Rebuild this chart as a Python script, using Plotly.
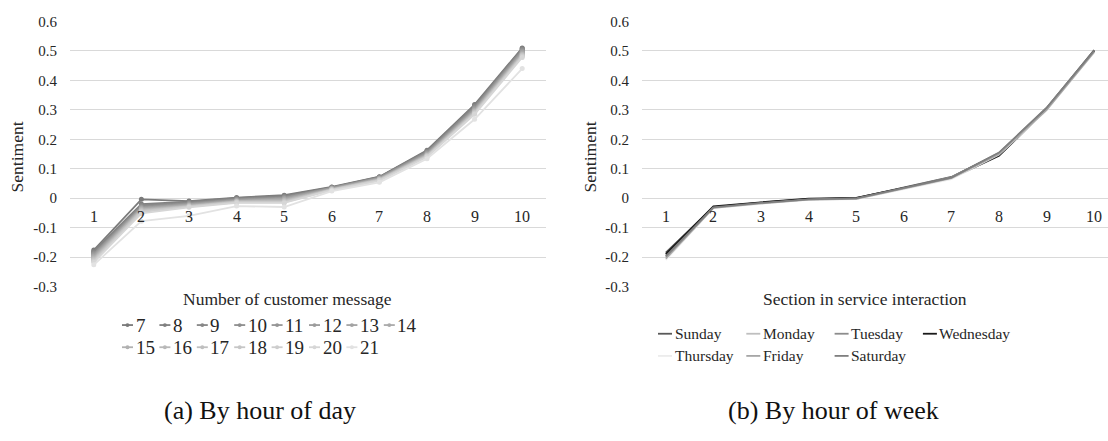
import plotly.graph_objects as go

W, H = 1108, 441

# ---------------- data ----------------
categories = [1, 2, 3, 4, 5, 6, 7, 8, 9, 10]
category_labels = ["1", "2", "3", "4", "5", "6", "7", "8", "9", "10"]

hour_names = ["7", "8", "9", "10", "11", "12", "13", "14",
              "15", "16", "17", "18", "19", "20", "21"]
h7 = [-0.176, -0.004, -0.010, 0.002, 0.010, 0.038, 0.073, 0.163, 0.318, 0.510]
h8 = [-0.180, -0.020, -0.012, 0.000, 0.008, 0.037, 0.072, 0.160, 0.314, 0.508]
h9 = [-0.184, -0.024, -0.015, -0.002, 0.005, 0.036, 0.071, 0.158, 0.312, 0.505]
h10 = [-0.188, -0.028, -0.017, -0.004, 0.003, 0.035, 0.070, 0.156, 0.308, 0.503]
h11 = [-0.190, -0.030, -0.019, -0.005, 0.001, 0.034, 0.069, 0.154, 0.305, 0.500]
h12 = [-0.193, -0.032, -0.020, -0.006, 0.000, 0.034, 0.068, 0.152, 0.303, 0.498]
h13 = [-0.196, -0.034, -0.022, -0.008, -0.002, 0.033, 0.067, 0.150, 0.300, 0.495]
h14 = [-0.199, -0.036, -0.023, -0.009, -0.004, 0.032, 0.066, 0.149, 0.298, 0.492]
h15 = [-0.202, -0.038, -0.025, -0.010, -0.006, 0.031, 0.065, 0.147, 0.296, 0.490]
h16 = [-0.205, -0.040, -0.026, -0.011, -0.008, 0.030, 0.064, 0.146, 0.294, 0.488]
h17 = [-0.208, -0.042, -0.027, -0.012, -0.010, 0.030, 0.063, 0.145, 0.292, 0.486]
h18 = [-0.211, -0.044, -0.028, -0.013, -0.012, 0.029, 0.062, 0.143, 0.290, 0.484]
h19 = [-0.214, -0.047, -0.029, -0.014, -0.014, 0.028, 0.061, 0.142, 0.288, 0.482]
h20 = [-0.218, -0.052, -0.031, -0.016, -0.016, 0.027, 0.059, 0.140, 0.285, 0.478]
h21 = [-0.226, -0.078, -0.060, -0.027, -0.030, 0.024, 0.054, 0.134, 0.268, 0.440]
hour_series = [h7, h8, h9, h10, h11, h12, h13, h14, h15, h16, h17, h18, h19, h20, h21]

day_names = ["Sunday", "Monday", "Tuesday", "Wednesday", "Thursday", "Friday", "Saturday"]
sunday = [-0.185, -0.030, -0.015, -0.003, 0.000, 0.037, 0.072, 0.152, 0.305, 0.503]
monday = [-0.200, -0.032, -0.017, -0.004, -0.002, 0.035, 0.070, 0.150, 0.303, 0.500]
tuesday = [-0.195, -0.031, -0.016, -0.004, -0.001, 0.036, 0.071, 0.153, 0.306, 0.502]
wednesday = [-0.190, -0.028, -0.014, -0.002, 0.001, 0.034, 0.068, 0.144, 0.302, 0.500]
thursday = [-0.210, -0.034, -0.019, -0.006, -0.003, 0.030, 0.065, 0.148, 0.298, 0.495]
friday = [-0.205, -0.033, -0.018, -0.005, -0.002, 0.033, 0.068, 0.150, 0.300, 0.497]
saturday = [-0.198, -0.031, -0.016, -0.004, -0.001, 0.035, 0.070, 0.155, 0.307, 0.501]
day_series = [sunday, monday, tuesday, wednesday, thursday, friday, saturday]

y_tick_vals = [-0.3, -0.2, -0.1, 0, 0.1, 0.2, 0.3, 0.4, 0.5, 0.6]
y_tick_labels = ["-0.3", "-0.2", "-0.1", "0", "0.1", "0.2", "0.3", "0.4", "0.5", "0.6"]

# ---------------- styles ----------------
hour_colors = ["#7a7a7a", "#808080", "#878787", "#8e8e8e", "#959595", "#9c9c9c",
               "#a3a3a3", "#aaaaaa", "#b1b1b1", "#b8b8b8", "#bfbfbf", "#c6c6c6",
               "#cdcdcd", "#d6d6d6", "#e2e2e2"]
day_colors = ["#595959", "#bfbfbf", "#8c8c8c", "#1a1a1a", "#ececec", "#a6a6a6", "#7f7f7f"]

FONT = "Liberation Serif"
GRID = "#d9d9d9"
TXT = "#262626"


def px(x):
    return x / W


def py(y):
    return 1 - y / H


fig = go.Figure()

for name, ys, c in zip(hour_names, hour_series, hour_colors):
    fig.add_trace(go.Scatter(x=categories, y=ys, mode="lines+markers", name=name,
                             line=dict(color=c, width=1.8),
                             marker=dict(color=c, size=5),
                             xaxis="x", yaxis="y", showlegend=False))

for name, ys, c in zip(day_names, day_series, day_colors):
    fig.add_trace(go.Scatter(x=categories, y=ys, mode="lines", name=name,
                             line=dict(color=c, width=1.8),
                             xaxis="x2", yaxis="y2", showlegend=False))

# plot area geometry (pixels)
L_X0, L_X1 = 70, 546
R_X0, R_X1 = 642, 1108
Y_TOP, Y_BOT = 14, 289
cat_px = (L_X1 - L_X0) / 10.0

yaxis_common = dict(range=[-0.3, 0.6], tickvals=y_tick_vals, ticktext=y_tick_labels,
                    showgrid=True, gridcolor=GRID, gridwidth=1, zeroline=False,
                    showline=False, ticks="", ticklabelstandoff=12,
                    tickfont=dict(family=FONT, size=15, color=TXT),
                    domain=[py(Y_BOT), py(Y_TOP)])

fig.update_layout(
    width=W, height=H, autosize=False,
    margin=dict(l=0, r=0, t=0, b=0),
    paper_bgcolor="white", plot_bgcolor="white",
    showlegend=False,
    xaxis=dict(domain=[px(L_X0), px(L_X1)], range=[0.5, 10.5], showgrid=False,
               zeroline=False, showticklabels=False, showline=False, anchor="y"),
    yaxis=dict(anchor="x", **yaxis_common),
    xaxis2=dict(domain=[px(R_X0), px(R_X1)],
                range=[0.5, 0.5 + (R_X1 - R_X0) / cat_px], showgrid=False,
                zeroline=False, showticklabels=False, showline=False, anchor="y2"),
    yaxis2=dict(anchor="x2", **yaxis_common),
)

ann = []


def text_at(x, y, text, size, xanchor="center", angle=0, color=TXT):
    ann.append(dict(x=px(x), y=py(y), xref="paper", yref="paper", text=text,
                    xanchor=xanchor, yanchor="middle", textangle=angle,
                    showarrow=False, font=dict(family=FONT, size=size, color=color)))


# category labels near zero line
for xr, yr in (("x", "y"), ("x2", "y2")):
    for c, lab in zip(categories, category_labels):
        ann.append(dict(x=c, y=0, xref=xr, yref=yr, text=lab, showarrow=False,
                        xanchor="center", yanchor="top", yshift=-8,
                        font=dict(family=FONT, size=16, color=TXT)))

# axis titles
text_at(287, 302, "Number of customer message", 17.5)
text_at(865, 302, "Section in service interaction", 17.5)
for xx in (17, 590):
    text_at(xx, 155, "Sentiment", 17.5, angle=-90)

# captions
text_at(260, 418, "(a) By hour of day", 26, color="#111111")
text_at(833, 418, "(b) By hour of week", 26, color="#111111")

shapes = []
# manual legend (left)
for i, (name, c) in enumerate(zip(hour_names, hour_colors)):
    row, col = divmod(i, 8)
    x0 = 122 + col * 37.4
    yy = 329 + row * 23
    shapes.append(dict(type="line", xref="paper", yref="paper",
                       x0=px(x0), x1=px(x0 + 11), y0=py(yy), y1=py(yy),
                       line=dict(color=c, width=1.8)))
    shapes.append(dict(type="circle", xref="paper", yref="paper",
                       x0=px(x0 + 3.5), x1=px(x0 + 7.5), y0=py(yy + 2), y1=py(yy - 2),
                       fillcolor=c, line=dict(color=c, width=0)))
    text_at(x0 + 11.5, yy, name, 19, xanchor="left")

# manual legend (right)
for i, (name, c) in enumerate(zip(day_names, day_colors)):
    row, col = divmod(i, 4)
    x0 = 658 + col * 88.3
    yy = 338 + row * 23
    shapes.append(dict(type="line", xref="paper", yref="paper",
                       x0=px(x0), x1=px(x0 + 14), y0=py(yy), y1=py(yy),
                       line=dict(color=c, width=1.8)))
    text_at(x0 + 14.5, yy, name, 15.5, xanchor="left")

fig.update_layout(annotations=ann, shapes=shapes)
fig.write_html("out.html")
